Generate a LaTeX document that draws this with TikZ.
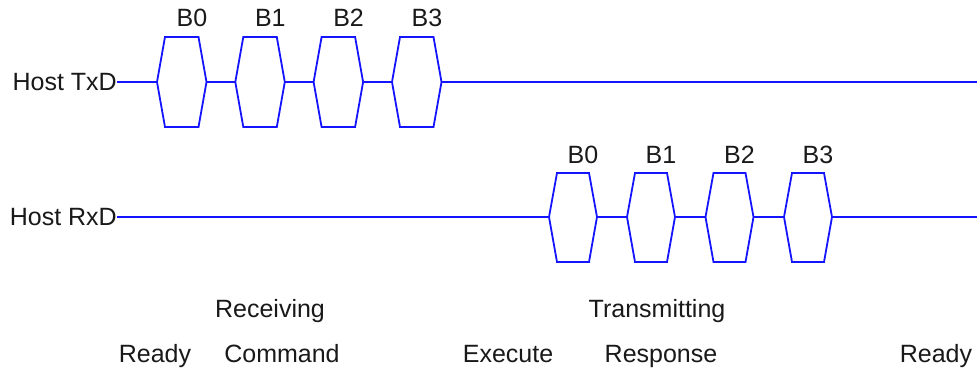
\documentclass[tikz,border=0pt]{standalone}
\usepackage{fontspec}
\setmainfont{Liberation Sans}
\definecolor{sig}{RGB}{20,20,255}
\definecolor{txt}{RGB}{25,25,25}
\begin{document}
\begin{tikzpicture}[x=1pt,y=-1pt,
  sigline/.style={draw=sig,line width=1.8pt,line join=miter},
  lbl/.style={font=\fontsize{25}{30}\selectfont,text=txt,inner sep=0pt,anchor=base}]
\useasboundingbox (0,0) rectangle (977,371);
% signal names
\node[lbl,anchor=base east] (txd) at (117,91) {Host TxD};
\node[lbl,anchor=base east] (rxd) at (117,226) {Host RxD};
\coordinate (txend) at (977,82);
\coordinate (rxend) at (977,217);
% TxD bytes
\foreach \i/\lx in {0/157,1/235.3,2/313.6,3/392}{
  \coordinate (tl\i) at (\lx,82);
  \coordinate (tr\i) at (\lx+49.5,82);
  \draw[sigline] (tl\i) -- ++(8,-45) -- ++(33.5,0) -- (tr\i) -- ++(-8,45) -- ++(-33.5,0) -- cycle;
  \node[lbl] (tb\i) at (\lx+35,27) {B\i};
}
% RxD bytes
\foreach \i/\lx in {0/549,1/627,2/705.5,3/784}{
  \coordinate (rl\i) at (\lx,217);
  \coordinate (rr\i) at (\lx+48,217);
  \draw[sigline] (rl\i) -- ++(8,-44) -- ++(32,0) -- (rr\i) -- ++(-8,45) -- ++(-32,0) -- cycle;
  \node[lbl] (rb\i) at (\lx+34,164) {B\i};
}
% TxD line segments
\draw[sigline] (txd.east |- tl0) -- (tl0);
\draw[sigline] (tr0) -- (tl1);
\draw[sigline] (tr1) -- (tl2);
\draw[sigline] (tr2) -- (tl3);
\draw[sigline] (tr3) -- (txend);
% RxD line segments
\draw[sigline] (rxd.east |- rl0) -- (rl0);
\draw[sigline] (rr0) -- (rl1);
\draw[sigline] (rr1) -- (rl2);
\draw[sigline] (rr2) -- (rl3);
\draw[sigline] (rr3) -- (rxend);
% phase labels
\node[lbl] (recv) at (270,317) {Receiving};
\node[lbl] (trans) at (657,317) {Transmitting};
\node[lbl] (ready1) at (155,362) {Ready};
\node[lbl] (cmd) at (282,362) {Command};
\node[lbl] (exec) at (508,362) {Execute};
\node[lbl] (resp) at (661,362) {Response};
\node[lbl] (ready2) at (936,362) {Ready};
\end{tikzpicture}
\end{document}
